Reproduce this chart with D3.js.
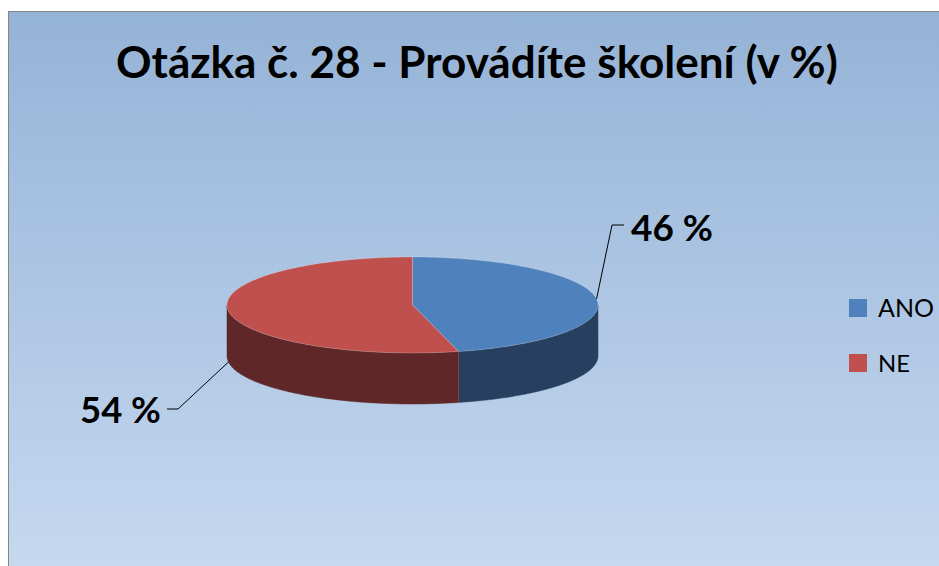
<!DOCTYPE html>
<html>
<head>
<meta charset="utf-8">
<script src="https://cdn.jsdelivr.net/npm/d3@7/dist/d3.min.js"></script>
<style>
  html, body { margin: 0; padding: 0; background: #ffffff; }
  svg { display: block; }
  text { font-family: Lato, "Open Sans", "DejaVu Sans", sans-serif; fill: #000; }
</style>
</head>
<body>
<svg id="chart" width="939" height="566"></svg>
<script>
// Survey answers, in percent
const categories = ["ANO", "NE"];
const values = [46, 54];
const valueLabels = ["46 %", "54 %"];
const titleText = "Otázka č. 28 - Provádíte školení (v %)";

const topColors = ["#4f81bd", "#c0504d"];
const sideColors = ["#27405f", "#5f2727"];

const W = 939, H = 566;
const svg = d3.select("#chart");

// Background panel with vertical gradient
const defs = svg.append("defs");
const bg = defs.append("linearGradient").attr("id", "bg").attr("x1", 0).attr("y1", 0).attr("x2", 0).attr("y2", 1);
bg.append("stop").attr("offset", "0%").attr("stop-color", "#95b3d7");
bg.append("stop").attr("offset", "100%").attr("stop-color", "#c6d9f0");

svg.append("rect").attr("x", 8.5).attr("y", 11.5).attr("width", W).attr("height", H)
  .attr("fill", "url(#bg)").attr("stroke", "#868686").attr("stroke-width", 1);

// Scale a text element's font size so its advance width equals target
function fitWidth(sel, target) {
  sel.attr("font-size", 40);
  const w = sel.node().getComputedTextLength();
  sel.attr("font-size", 40 * target / w);
}

// Title
const title = svg.append("text")
  .attr("x", 116).attr("y", 78)
  .attr("font-weight", "bold")
  .text(titleText);
fitWidth(title, 722);

// 3D pie geometry
const cx = 412.5, cy = 305, rx = 185.5, ry = 48, depth = 51;
const pie = d3.pie().sort(null).startAngle(0).endAngle(2 * Math.PI);
const arcs = pie(values);

// Angle measured clockwise from 12 o'clock
const px = a => cx + rx * Math.sin(a);
const py = a => cy - ry * Math.cos(a);

function ellipsePoints(a0, a1, dy) {
  const n = Math.max(2, Math.ceil(Math.abs(a1 - a0) / 0.01));
  const pts = [];
  for (let i = 0; i <= n; i++) {
    const a = a0 + (a1 - a0) * i / n;
    pts.push([px(a), py(a) + dy]);
  }
  return pts;
}

const line = d3.line();
const g = svg.append("g");

// Side walls on the front half (angles between 90° and 270°)
const frontStart = Math.PI / 2, frontEnd = 3 * Math.PI / 2;
arcs.forEach((d, i) => {
  const a0 = Math.max(d.startAngle, frontStart);
  const a1 = Math.min(d.endAngle, frontEnd);
  if (a1 <= a0) return;
  const topEdge = ellipsePoints(a0, a1, 0);
  const bottomEdge = ellipsePoints(a1, a0, depth);
  g.append("path")
    .attr("d", line(topEdge.concat(bottomEdge)) + "Z")
    .attr("fill", sideColors[i])
    .attr("stroke", sideColors[i])
    .attr("stroke-width", 0.5);
});

// Wall seam between slices at the front
arcs.forEach(d => {
  const a = d.endAngle;
  if (a > frontStart && a < frontEnd) {
    g.append("line")
      .attr("x1", px(a)).attr("y1", py(a))
      .attr("x2", px(a)).attr("y2", py(a) + depth)
      .attr("stroke", "#8a4a4a").attr("stroke-width", 0.8);
  }
});

// Top faces
arcs.forEach((d, i) => {
  const pts = [[cx, cy]].concat(ellipsePoints(d.startAngle, d.endAngle, 0));
  g.append("path")
    .attr("d", line(pts) + "Z")
    .attr("fill", topColors[i])
    .attr("stroke", "rgba(255,255,255,0.35)")
    .attr("stroke-width", 0.6)
    .attr("stroke-linejoin", "round");
});

// Data labels with leader lines
const labelLayout = [
  { elbow: [612, 225], end: [624, 225], tx: 631, ty: 241, width: 82 },
  { elbow: [178, 409], end: [167, 409], tx: 80, ty: 423, width: 81 }
];
arcs.forEach((d, i) => {
  const mid = (d.startAngle + d.endAngle) / 2;
  const onFront = Math.cos(mid) < 0;
  const start = [px(mid), py(mid) + (onFront ? depth : 0)];
  const L = labelLayout[i];
  svg.append("path")
    .attr("d", line([start, L.elbow, L.end]))
    .attr("fill", "none").attr("stroke", "#000").attr("stroke-width", 1);
  const t = svg.append("text")
    .attr("x", L.tx).attr("y", L.ty)
    .attr("font-weight", "bold")
    .text(valueLabels[i]);
  fitWidth(t, L.width);
});

// Legend
const legend = svg.append("g");
const legendY = d3.scalePoint().domain(categories).range([308, 363]);
categories.forEach((c, i) => {
  const y = legendY(c);
  legend.append("rect").attr("x", 849).attr("y", y - 9).attr("width", 18).attr("height", 18)
    .attr("fill", topColors[i]);
  const t = legend.append("text").attr("x", 878).attr("y", y + 9).text(c);
  fitWidth(t, i === 0 ? 56 : 32);
});
</script>
</body>
</html>
